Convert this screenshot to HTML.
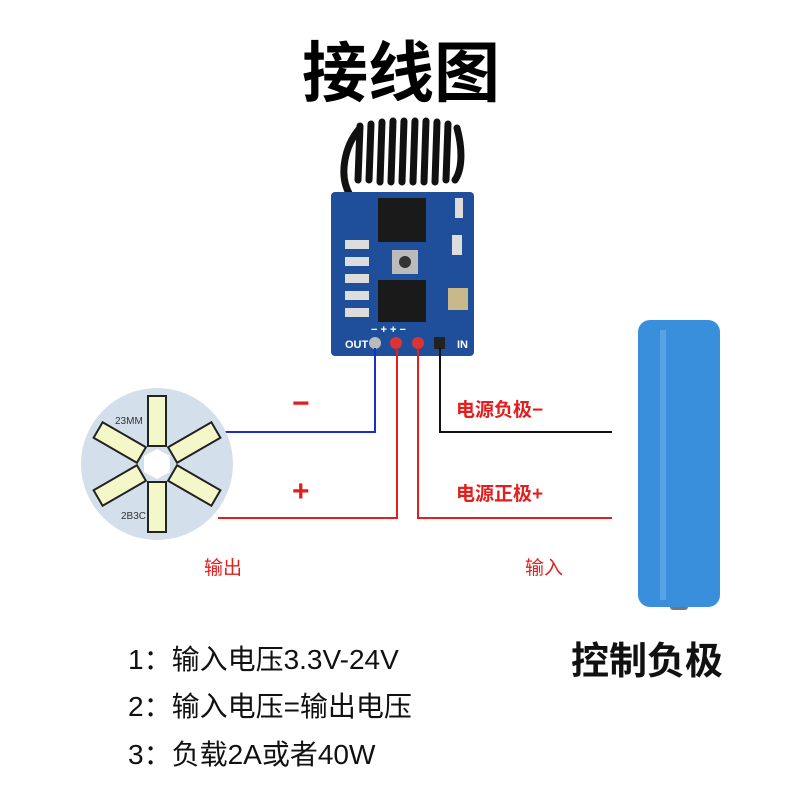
<!DOCTYPE html>
<html><head><meta charset="utf-8"><style>
body{margin:0;background:#fff;width:800px;height:800px;overflow:hidden}
svg{display:block}
text{font-family:"Liberation Sans","Noto Sans CJK SC",sans-serif}
</style></head><body>
<svg width="800" height="800" viewBox="0 0 800 800">
<text x="401" y="96" font-size="66" font-weight="bold" text-anchor="middle" fill="#000">接线图</text>
<!-- antenna coils -->
<g stroke="#111" stroke-width="7" fill="none" stroke-linecap="round">
<path d="M350 195 C338 175 345 145 360 128"/>
<path d="M360 126 L358 180"/><path d="M371 124 L369 180"/><path d="M382 122 L380 182"/>
<path d="M393 121 L391 182"/><path d="M404 121 L402 182"/><path d="M415 121 L413 182"/>
<path d="M426 121 L424 182"/><path d="M437 122 L435 182"/><path d="M448 124 L446 180"/>
<path d="M457 128 C463 150 462 170 455 180"/>
</g>
<!-- board -->
<rect x="331" y="192" width="143" height="164" rx="4" fill="#1f4f9a"/>
<rect x="378" y="198" width="48" height="44" fill="#1a1a1a"/>
<rect x="378" y="280" width="48" height="42" fill="#1a1a1a"/>
<rect x="392" y="250" width="26" height="24" fill="#bbb"/>
<circle cx="405" cy="262" r="6" fill="#333"/>
<g fill="#ddd"><rect x="345" y="240" width="24" height="9"/><rect x="345" y="257" width="24" height="9"/><rect x="345" y="274" width="24" height="9"/><rect x="345" y="291" width="24" height="9"/><rect x="345" y="308" width="24" height="9"/>
<rect x="455" y="198" width="8" height="20"/><rect x="452" y="235" width="10" height="20"/><rect x="448" y="288" width="20" height="22" fill="#c9b98a"/></g>
<text x="345" y="348" font-size="11" font-weight="bold" fill="#fff">OUT</text>
<text x="457" y="348" font-size="11" font-weight="bold" fill="#fff">IN</text>
<text x="371" y="333" font-size="11" font-weight="bold" fill="#fff">−  +  +  −</text>
<circle cx="375" cy="343" r="6" fill="#bbb"/><circle cx="396" cy="343" r="6" fill="#d33"/><circle cx="418" cy="343" r="6" fill="#d33"/><rect x="434" y="337" width="11" height="12" fill="#222"/>
<!-- wires -->
<polyline points="375,348 375,432 222,432" stroke="#1a2fc8" stroke-width="2" fill="none"/>
<polyline points="397,348 397,518 218,518" stroke="#e21f1f" stroke-width="2" fill="none"/>
<polyline points="418,348 418,518 612,518" stroke="#e21f1f" stroke-width="2" fill="none"/>
<polyline points="440,348 440,432 612,432" stroke="#111" stroke-width="2" fill="none"/>
<!-- LED board -->
<circle cx="157" cy="464" r="76" fill="#d4dfec"/>
<polygon points="157,449 170,456 170,472 157,479 144,472 144,456" fill="#fff"/>
<g fill="#f4f7c8" stroke="#222" stroke-width="2">
<rect x="148" y="396" width="18" height="50" transform="rotate(0 157 464)"/>
<rect x="148" y="396" width="18" height="50" transform="rotate(60 157 464)"/>
<rect x="148" y="396" width="18" height="50" transform="rotate(120 157 464)"/>
<rect x="148" y="396" width="18" height="50" transform="rotate(180 157 464)"/>
<rect x="148" y="396" width="18" height="50" transform="rotate(240 157 464)"/>
<rect x="148" y="396" width="18" height="50" transform="rotate(300 157 464)"/>
</g>
<text x="115" y="424" font-size="10" fill="#333">23MM</text>
<text x="121" y="519" font-size="10" fill="#333">2B3C</text>
<!-- battery -->
<rect x="670" y="600" width="18" height="10" rx="3" fill="#777"/>
<rect x="638" y="320" width="82" height="287" rx="12" fill="#3a8fdc"/>
<rect x="660" y="330" width="6" height="270" fill="#6db0ea" opacity="0.6"/>
<!-- labels -->
<text x="292" y="413" font-size="30" font-weight="bold" fill="#e21f1f">−</text>
<text x="292" y="501" font-size="30" font-weight="bold" fill="#e21f1f">+</text>
<text x="456" y="416" font-size="19" font-weight="bold" fill="#e21f1f">电源负极−</text>
<text x="456" y="500" font-size="19" font-weight="bold" fill="#e21f1f">电源正极+</text>
<text x="204" y="574" font-size="19" fill="#e21f1f">输出</text>
<text x="525" y="574" font-size="19" fill="#e21f1f">输入</text>
<text x="128" y="669" font-size="28" fill="#111">1：输入电压3.3V-24V</text>
<text x="128" y="716" font-size="28" fill="#111">2：输入电压=输出电压</text>
<text x="128" y="764" font-size="28" fill="#111">3：负载2A或者40W</text>
<text x="571" y="674" font-size="38" font-weight="bold" fill="#111">控制负极</text>
</svg>
</body></html>
